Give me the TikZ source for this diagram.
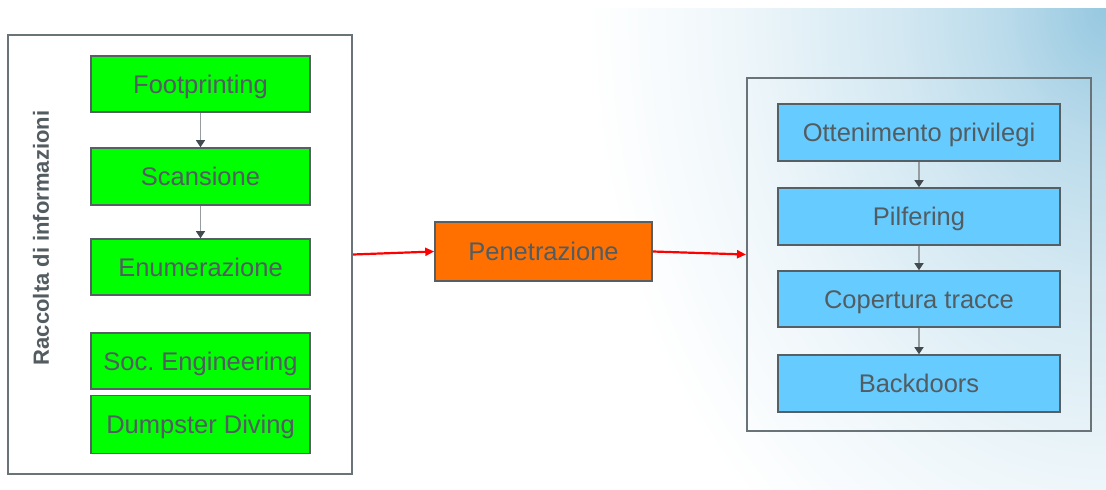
\documentclass[tikz,border=0pt]{standalone}
\usepackage{fontspec}
\setmainfont{Liberation Sans}
\usetikzlibrary{arrows.meta}
\frenchspacing
\definecolor{txtgray}{RGB}{82,92,97}
\definecolor{edgegray}{RGB}{85,95,100}
\definecolor{framegray}{RGB}{105,115,120}
\definecolor{stepgreen}{RGB}{0,255,0}
\definecolor{stepblue}{RGB}{102,204,255}
\definecolor{steporange}{RGB}{255,112,0}
\definecolor{linkgray}{RGB}{150,156,160}
\definecolor{tipgray}{RGB}{65,75,80}
\definecolor{skyblue}{RGB}{150,200,224}
\colorlet{sky65}{skyblue!65!white}
\colorlet{sky42}{skyblue!42!white}
\colorlet{sky15}{skyblue!15!white}
\pgfdeclareradialshading{skyfade}{\pgfpoint{0bp}{0bp}}{%
  color(0bp)=(skyblue); color(5bp)=(sky65); color(10bp)=(sky42);
  color(18bp)=(sky15); color(25bp)=(white); color(50bp)=(white)}
\tikzset{
  stepbox/.style={draw=edgegray, line width=1.6pt, inner sep=0pt,
    text=txtgray, font=\fontsize{25.5}{28}\selectfont,
    text height=18.3pt, text depth=0pt},
  frame/.style={draw=framegray, line width=2pt, inner sep=0pt},
  flow/.style={draw=linkgray, line width=1.4pt,
    -{Triangle[width=9pt,length=7pt,fill=tipgray,color=tipgray]}},
  link/.style={draw=red, line width=2.2pt,
    -{Triangle[width=8pt,length=9pt]}}
}
\begin{document}
\begin{tikzpicture}[x=1pt,y=-1pt]
\useasboundingbox (0,0) rectangle (1106,490);
\fill[white] (0,0) rectangle (1106,490);
% soft sky tint in the upper right corner
\begin{scope}
  \clip (0,8) rectangle (1106,490);
  \shade[shading=skyfade] (1106,8) ellipse (520 and 680);
\end{scope}

% left group: information gathering
\node[frame, fill=white, minimum width=344pt, minimum height=439pt] (gather) at (180,254.5) {};
\node[rotate=90, text=txtgray, font=\bfseries\fontsize{22}{24}\selectfont] (gatherlbl) at (41,238) {Raccolta di informazioni};
\node[stepbox, fill=stepgreen, minimum width=219pt, minimum height=56pt] (foot) at (200.5,84) {Footprinting};
\node[stepbox, fill=stepgreen, minimum width=219pt, minimum height=57pt] (scan) at (200.5,176.5) {Scansione};
\node[stepbox, fill=stepgreen, minimum width=219pt, minimum height=56pt] (enum) at (200.5,267) {Enumerazione};
\node[stepbox, fill=stepgreen, minimum width=219pt, minimum height=56pt] (soc) at (200.5,361) {Soc.\ Engineering};
\node[stepbox, fill=stepgreen, minimum width=219pt, minimum height=58pt] (dump) at (200.5,424.5) {Dumpster Diving};

% middle step
\node[stepbox, fill=steporange, minimum width=217pt, minimum height=59pt] (pen) at (543.5,251.5) {Penetrazione};

% right group
\node[frame, minimum width=344pt, minimum height=353pt] (after) at (919,254.5) {};
\node[stepbox, fill=stepblue, minimum width=282pt, minimum height=57pt] (priv) at (919,132.5) {Ottenimento privilegi};
\node[stepbox, fill=stepblue, minimum width=282pt, minimum height=57pt] (pilf) at (919,216.5) {Pilfering};
\node[stepbox, fill=stepblue, minimum width=282pt, minimum height=56pt] (cover) at (919,299) {Copertura tracce};
\node[stepbox, fill=stepblue, minimum width=282pt, minimum height=57pt] (back) at (919,383.5) {Backdoors};

% connectors
\draw[flow] (foot) -- (scan);
\draw[flow] (scan) -- (enum);
\draw[flow] (priv) -- (pilf);
\draw[flow] (pilf) -- (cover);
\draw[flow] (cover) -- (back);
\draw[link] (gather.east) -- (pen.west);
\draw[link] (pen.east) -- (after.west);
\end{tikzpicture}
\end{document}
